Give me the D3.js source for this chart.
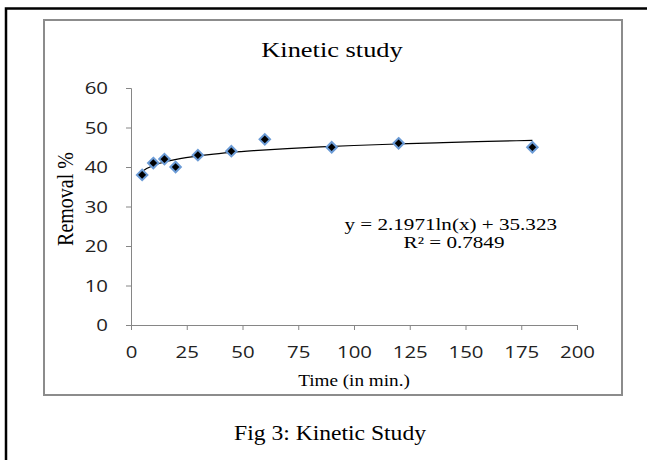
<!DOCTYPE html>
<html><head><meta charset="utf-8">
<script src="https://cdn.jsdelivr.net/npm/d3@7"></script>
<style>body{margin:0;background:#fff}</style>
</head><body>
<svg id="c" width="647" height="460"></svg>
<script>
const timeValues = [5, 10, 15, 20, 30, 45, 60, 90, 120, 180];
const removalValues = [38, 41, 42, 40, 43, 44, 47, 45, 46, 45];
const xTicks = [0, 25, 50, 75, 100, 125, 150, 175, 200];
const yTicks = [0, 10, 20, 30, 40, 50, 60];
const trendA = 2.1971, trendB = 35.323;
const trendSamples = [5, 7, 10, 13, 17, 22, 28, 35, 45, 55, 70, 85, 100, 120, 140, 160, 180];

const svg = d3.select('#c');
const serif = "'Liberation Serif','Times New Roman',serif";
const sans = "'Open Sans','Liberation Sans',sans-serif";
const SX = 1.2;

svg.append('path').attr('d','M6,460 V8.5 H647').attr('fill','none').attr('stroke','#000').attr('stroke-width',2.5);
svg.append('rect').attr('x',44).attr('y',20).attr('width',578).attr('height',375)
  .attr('fill','#fff').attr('stroke','#8c8c8c').attr('stroke-width',2);

const x = d3.scaleLinear().domain([0,200]).range([131,577]);
const y = d3.scaleLinear().domain([0,60]).range([325,88]);

const xa = svg.append('g').attr('transform','translate(0,325)')
  .call(d3.axisBottom(x).tickValues(xTicks).tickSize(5));
const ya = svg.append('g').attr('transform','translate(131,0)')
  .call(d3.axisLeft(y).tickValues(yTicks).tickSize(5));
[xa,ya].forEach(g=>{
  g.select('.domain').attr('stroke','#868686');
  g.selectAll('.tick line').attr('stroke','#868686');
  g.selectAll('.tick text').attr('fill','#222').style('font-family',sans).style('font-size','17px');
});
xa.selectAll('.tick text').attr('y',0).attr('dy','0').attr('transform',`translate(0,33) scale(${SX},1)`);
ya.selectAll('.tick text').attr('x',0).attr('dy','0.35em').attr('transform',`translate(-23,0) scale(${SX},1)`);
xa.select('.domain').attr('d',`M131,0.5H577.5V5`);
ya.select('.domain').attr('d',`M-5,88.5H0.5V325`);

const line = d3.line().x(d=>x(d)).y(d=>y(trendA*Math.log(d)+trendB)).curve(d3.curveMonotoneX);
svg.append('path').datum(trendSamples).attr('d',line).attr('fill','none').attr('stroke','#000').attr('stroke-width',1.2);

const sym = d3.symbol().type(d3.symbolDiamond2).size(70);
svg.selectAll('path.pt').data(timeValues).join('path').attr('class','pt')
  .attr('transform',(d,i)=>`translate(${x(d)},${y(removalValues[i])})`)
  .attr('d',sym).attr('fill','#000').attr('stroke','#6b9bd6').attr('stroke-width',2);

function txt(tx, ty, s, size, anchor, sx, rot){
  svg.append('text').attr('transform',`translate(${tx},${ty})${rot?' rotate(-90)':''} scale(${rot?1:sx},${rot?sx:1})`)
    .attr('text-anchor',anchor).style('font-family',serif).style('font-size',size+'px').attr('fill','#000').text(s);
}
txt(332,57,'Kinetic study',22,'middle',1.2);
txt(73,199,'Removal %',20,'middle',1.15,true);
txt(354,386,'Time (in min.)',16,'middle',1.2);
txt(557,230,'y = 2.1971ln(x) + 35.323',16,'end',1.32);
txt(454,248,'R² = 0.7849',16,'middle',1.32);
txt(330,440,'Fig 3: Kinetic Study',20,'middle',1.18);
</script>
</body></html>
